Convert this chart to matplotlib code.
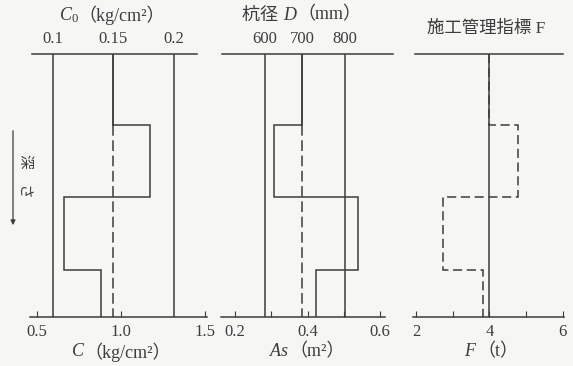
import numpy as np
import matplotlib
matplotlib.use("Agg")
import matplotlib.pyplot as plt
from matplotlib.patches import FancyArrowPatch

plt.rcParams['font.family'] = ['Liberation Serif', 'Noto Sans CJK JP']
plt.rcParams['mathtext.fontset'] = 'custom'
plt.rcParams['mathtext.it'] = 'Liberation Serif:italic'
plt.rcParams['mathtext.rm'] = 'Liberation Serif'

# depth boundaries of the layers (relative, 0 = top, 10 = pile tip)
depth = [0, 2.7, 5.45, 8.2, 10]

# panel 1: cohesion
c0_ref = [0.1, 0.15, 0.2]                 # C0 reference lines (top scale)
c_profile = [0.955, 1.17, 0.66, 0.88]     # C per layer (bottom scale)
c_ticks = [0.5, 1.0, 1.5]
c_labels = ['0.5', '1.0', '1.5']

# panel 2: pile diameter / area
d_ref = [600, 700, 800]                   # mm
as_profile = [0.385, 0.306, 0.539, 0.422] # m2 per layer
as_ticks = [0.2, 0.3, 0.4, 0.5, 0.6]
as_labels = ['0.2', '', '0.4', '', '0.6']

# panel 3: management index F
f_design = 4.0
f_profile = [4.0, 4.78, 2.73, 3.83]
f_ticks = [2, 3, 4, 5, 6]
f_labels = ['2', '', '4', '', '6']

INK = '#3c3c3c'
BG = '#f6f6f4'
LW = 1.1
FS = 12
FS_LAB = 13
W, H = 573, 366


def c0_to_c(c0):
    return 0.595 + (np.asarray(c0) - 0.1) * 7.2


def c_to_c0(c):
    return (np.asarray(c) - 0.595) / 7.2 + 0.1


def d_to_as(d):
    return np.pi * (np.asarray(d) / 2000.0) ** 2


def as_to_d(a):
    return 2000.0 * np.sqrt(np.clip(np.asarray(a), 1e-9, None) / np.pi)


def setup(ax, xlim, top_bounds, bottom_bounds):
    ax.set_facecolor(BG)
    ax.set_xlim(*xlim)
    ax.set_ylim(depth[-1], depth[0])
    ax.set_yticks([])
    for s in ['left', 'right']:
        ax.spines[s].set_visible(False)
    for s in ['top', 'bottom']:
        ax.spines[s].set_color(INK)
        ax.spines[s].set_linewidth(LW)
    ax.spines['top'].set_bounds(*top_bounds)
    ax.spines['bottom'].set_bounds(*bottom_bounds)
    ax.tick_params(axis='x', direction='in', length=4, width=0.8, color=INK,
                   labelsize=FS, labelcolor=INK, pad=5)


def rich(fig, cx, cy, parts, size=FS_LAB):
    # place several text pieces side by side, centred on (cx, cy) in pixels
    texts = [fig.text(0, 0, s, fontsize=size, color=INK, va='center',
                      ha='left') for s in parts]
    r = fig.canvas.get_renderer()
    widths = [t.get_window_extent(r).width for t in texts]
    x = cx - sum(widths) / 2
    for t, w in zip(texts, widths):
        t.set_position((x / W, 1 - cy / H))
        x += w


fig = plt.figure(figsize=(W / 100, H / 100), dpi=100, facecolor=BG)
bot = 49 / H
hgt = 263 / H

# ---- panel 1 ----
ax1 = fig.add_axes([30 / W, bot, 177 / W, hgt])
setup(ax1, (0.458, 1.512), (0.470, 1.452), (0.458, 1.512))
ref = c0_to_c(c0_ref)
ax1.axvline(ref[0], color=INK, lw=LW)
ax1.axvline(ref[2], color=INK, lw=LW)
ax1.plot([ref[1], ref[1]], [depth[0], depth[1]], color=INK, lw=LW)
ax1.plot([ref[1], ref[1]], [depth[1], depth[-1]], color=INK, lw=LW,
         dashes=(7, 3))
ax1.stairs(c_profile, depth, orientation='horizontal', baseline=None,
           color=INK, lw=LW)
ax1.set_xticks(c_ticks)
ax1.set_xticklabels(c_labels)
sec1 = ax1.secondary_xaxis('top', functions=(c_to_c0, c0_to_c))
sec1.spines['top'].set_visible(False)
sec1.set_xticks(c0_ref)
sec1.set_xticklabels(['0.1', '0.15', '0.2'])
sec1.tick_params(length=0, labelsize=FS, labelcolor=INK, pad=5)

# ---- panel 2 ----
ax2 = fig.add_axes([221 / W, bot, 172 / W, hgt])
setup(ax2, (0.161, 0.636), (0.164, 0.636), (0.161, 0.614))
ref = d_to_as(d_ref)
ax2.axvline(ref[0], color=INK, lw=LW)
ax2.axvline(ref[2], color=INK, lw=LW)
ax2.plot([ref[1], ref[1]], [depth[0], depth[1]], color=INK, lw=LW)
ax2.plot([ref[1], ref[1]], [depth[1], depth[-1]], color=INK, lw=LW,
         dashes=(7, 3))
ax2.stairs(as_profile, depth, orientation='horizontal', baseline=None,
           color=INK, lw=LW)
ax2.set_xticks(as_ticks)
ax2.set_xticklabels(as_labels)
sec2 = ax2.secondary_xaxis('top', functions=(as_to_d, d_to_as))
sec2.spines['top'].set_visible(False)
sec2.set_xticks(d_ref)
sec2.set_xticklabels([str(d) for d in d_ref])
sec2.tick_params(length=0, labelsize=FS, labelcolor=INK, pad=5)

# ---- panel 3 ----
ax3 = fig.add_axes([413 / W, bot, 151 / W, hgt])
setup(ax3, (1.92, 6.03), (1.97, 6.0), (1.92, 6.03))
ax3.axvline(f_design, color=INK, lw=LW)
ax3.stairs(f_profile, depth, orientation='horizontal', baseline=None,
           color=INK, lw=LW, linestyle=(0, (6, 3)))
ax3.set_xticks(f_ticks)
ax3.set_xticklabels(f_labels)

# axis titles (mixed italic / CJK text)
rich(fig, 112, 15, [r'$C_0$', '（kg/cm²）'])
rich(fig, 302, 15, ['杭径 ', r'$D$', '（mm）'])
rich(fig, 486, 29, ['施工管理指標 F'], size=12.5)
rich(fig, 121, 352, [r'$C$', '（kg/cm²）'])
rich(fig, 307, 352, [r'$As$', '（m²）'])
rich(fig, 491, 352, [r'$F$', '（t）'])

# depth arrow on the left
fig.add_artist(FancyArrowPatch(
    (13 / W, 1 - 128 / H), (13 / W, 1 - 228 / H),
    transform=fig.transFigure, arrowstyle='-|>', mutation_scale=7,
    color=INK, lw=0.9))
fig.text(25 / W, 1 - 176 / H, '深　さ', rotation=-90, fontsize=10.5,
         color=INK, ha='center', va='center')

fig.savefig('out.png', dpi=100, facecolor=BG)
